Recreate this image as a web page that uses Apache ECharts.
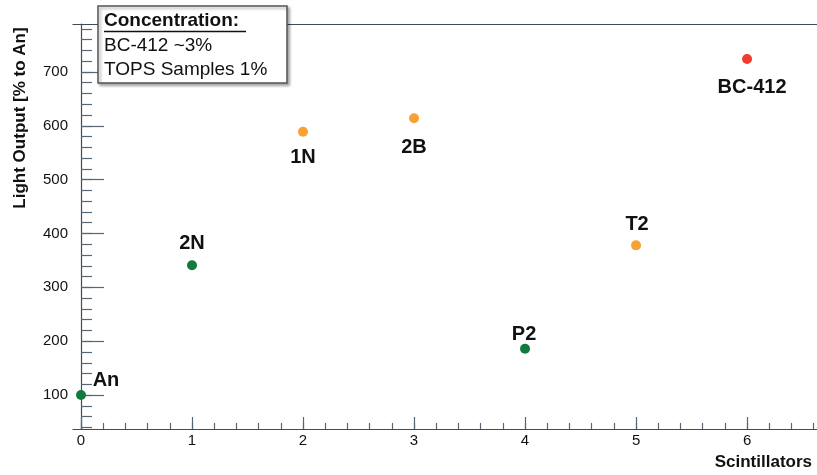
<!DOCTYPE html>
<html>
<head>
<meta charset="utf-8">
<script src="https://cdn.jsdelivr.net/npm/echarts@6/dist/echarts.min.js"></script>
<style>
html,body{margin:0;padding:0;background:#fff;}
#chart{width:817px;height:475px;}
</style>
</head>
<body>
<div id="chart"></div>
<script>
// ---- data ----
const sampleNames = ['An', '2N', '1N', '2B', 'P2', 'T2', 'BC-412'];
const scintillatorIndex = [0, 1, 2, 3, 4, 5, 6];
const lightOutput = [100, 341, 589, 614, 186, 378, 724];
const sampleGroup = ['green', 'green', 'orange', 'orange', 'green', 'orange', 'red'];
const xTickLabels = [0, 1, 2, 3, 4, 5, 6];
const yTickLabels = [100, 200, 300, 400, 500, 600, 700];
const legendLines = ['Concentration:', 'BC-412 ~3%', 'TOPS Samples 1%'];
const xTitle = 'Scintillators';
const yTitle = 'Light Output [% to An]';

// ---- styles ----
const groupColor = { green: '#127a3e', orange: '#f8a233', red: '#f23b30' };
const labelOffset = {
  'An': [25, -15], '2N': [0, -22], '1N': [0, 26], '2B': [0, 29],
  'P2': [-1, -14], 'T2': [1, -21], 'BC-412': [5, 28]
};
const XMIN = -0.072, XMAX = 6.63, YMIN = 37, YMAX = 789;
const xMinor = []; for (let v = 0; v <= XMAX + 1e-9; v += 0.2) xMinor.push(+v.toFixed(2));
const yMinor = []; for (let v = 40; v <= YMAX; v += 20) yMinor.push(v);
const axisCol = '#3f4c58';
const tickCol = '#566674';
const FONT = '"Liberation Sans", Arial, Helvetica, sans-serif';

const points = sampleNames.map((n, i) => ({
  name: n,
  value: [scintillatorIndex[i], lightOutput[i]],
  itemStyle: { color: groupColor[sampleGroup[i]], opacity: 1 },
  label: { offset: labelOffset[n] }
}));

const chart = echarts.init(document.getElementById('chart'));
const hiddenLbl = { show: false };
chart.setOption({
  animation: false,
  grid: { left: 73, top: 24, right: 0, bottom: 46, outerBoundsMode: 'none' },
  xAxis: [
    { type: 'value', min: XMIN, max: XMAX, position: 'bottom',
      axisLine: { show: true, lineStyle: { color: axisCol, width: 1.2 } },
      axisTick: { show: true, inside: true, length: 12, customValues: xTickLabels, lineStyle: { color: tickCol, width: 1.2 } },
      axisLabel: { customValues: xTickLabels, color: '#111', fontSize: 15, fontFamily: FONT, margin: 4 },
      splitLine: { show: false } },
    { type: 'value', min: XMIN, max: XMAX, position: 'bottom',
      axisLine: { show: false },
      axisTick: { show: true, inside: true, length: 6, customValues: xMinor, lineStyle: { color: tickCol, width: 1.2 } },
      axisLabel: hiddenLbl, splitLine: { show: false } },
    { type: 'value', min: XMIN, max: XMAX, position: 'top',
      axisLine: { show: true, lineStyle: { color: axisCol, width: 1.2 } },
      axisTick: { show: false }, axisLabel: hiddenLbl, splitLine: { show: false } }
  ],
  yAxis: [
    { type: 'value', min: YMIN, max: YMAX, position: 'left',
      axisLine: { show: true, lineStyle: { color: axisCol, width: 1.2 } },
      axisTick: { show: true, inside: true, length: 23, customValues: yTickLabels, lineStyle: { color: tickCol, width: 1.2 } },
      axisLabel: { customValues: yTickLabels, color: '#111', fontSize: 15, fontFamily: FONT, margin: 5 },
      splitLine: { show: false } },
    { type: 'value', min: YMIN, max: YMAX, position: 'left',
      axisLine: { show: false },
      axisTick: { show: true, inside: true, length: 11, customValues: yMinor, lineStyle: { color: tickCol, width: 1.2 } },
      axisLabel: hiddenLbl, splitLine: { show: false } }
  ],
  series: [{
    type: 'scatter',
    xAxisIndex: 0, yAxisIndex: 0,
    symbol: 'circle', symbolSize: 10,
    itemStyle: { opacity: 1 },
    data: points,
    label: {
      show: true, position: 'inside', formatter: '{b}',
      color: '#111', opacity: 1, fontSize: 20, fontWeight: 'bold', fontFamily: FONT
    }
  }],
  graphic: [
    { type: 'text', x: 20, y: 118, rotation: Math.PI / 2,
      style: { text: yTitle, fill: '#111', font: 'bold 17px ' + FONT, align: 'center', verticalAlign: 'middle' } },
    { type: 'text', x: 812, y: 462,
      style: { text: xTitle, fill: '#111', font: 'bold 17px ' + FONT, align: 'right', verticalAlign: 'middle' } },
    { type: 'rect', shape: { x: 98, y: 6, width: 189, height: 77 },
      style: { fill: '#fff', stroke: '#555', lineWidth: 1.5, shadowColor: 'rgba(0,0,0,0.35)', shadowBlur: 3, shadowOffsetX: 2, shadowOffsetY: 2 }, z: 100 },
    { type: 'text', x: 104, y: 21, z: 101,
      style: { text: legendLines[0], fill: '#111', font: 'bold 19px ' + FONT, align: 'left', verticalAlign: 'middle' } },
    { type: 'line', shape: { x1: 104, y1: 31.5, x2: 246, y2: 31.5 }, z: 101,
      style: { stroke: '#111', lineWidth: 1.5 } },
    { type: 'text', x: 104, y: 46, z: 101,
      style: { text: legendLines[1], fill: '#111', font: '19px ' + FONT, align: 'left', verticalAlign: 'middle' } },
    { type: 'text', x: 104, y: 70, z: 101,
      style: { text: legendLines[2], fill: '#111', font: '19px ' + FONT, align: 'left', verticalAlign: 'middle' } }
  ]
});
</script>
</body>
</html>
